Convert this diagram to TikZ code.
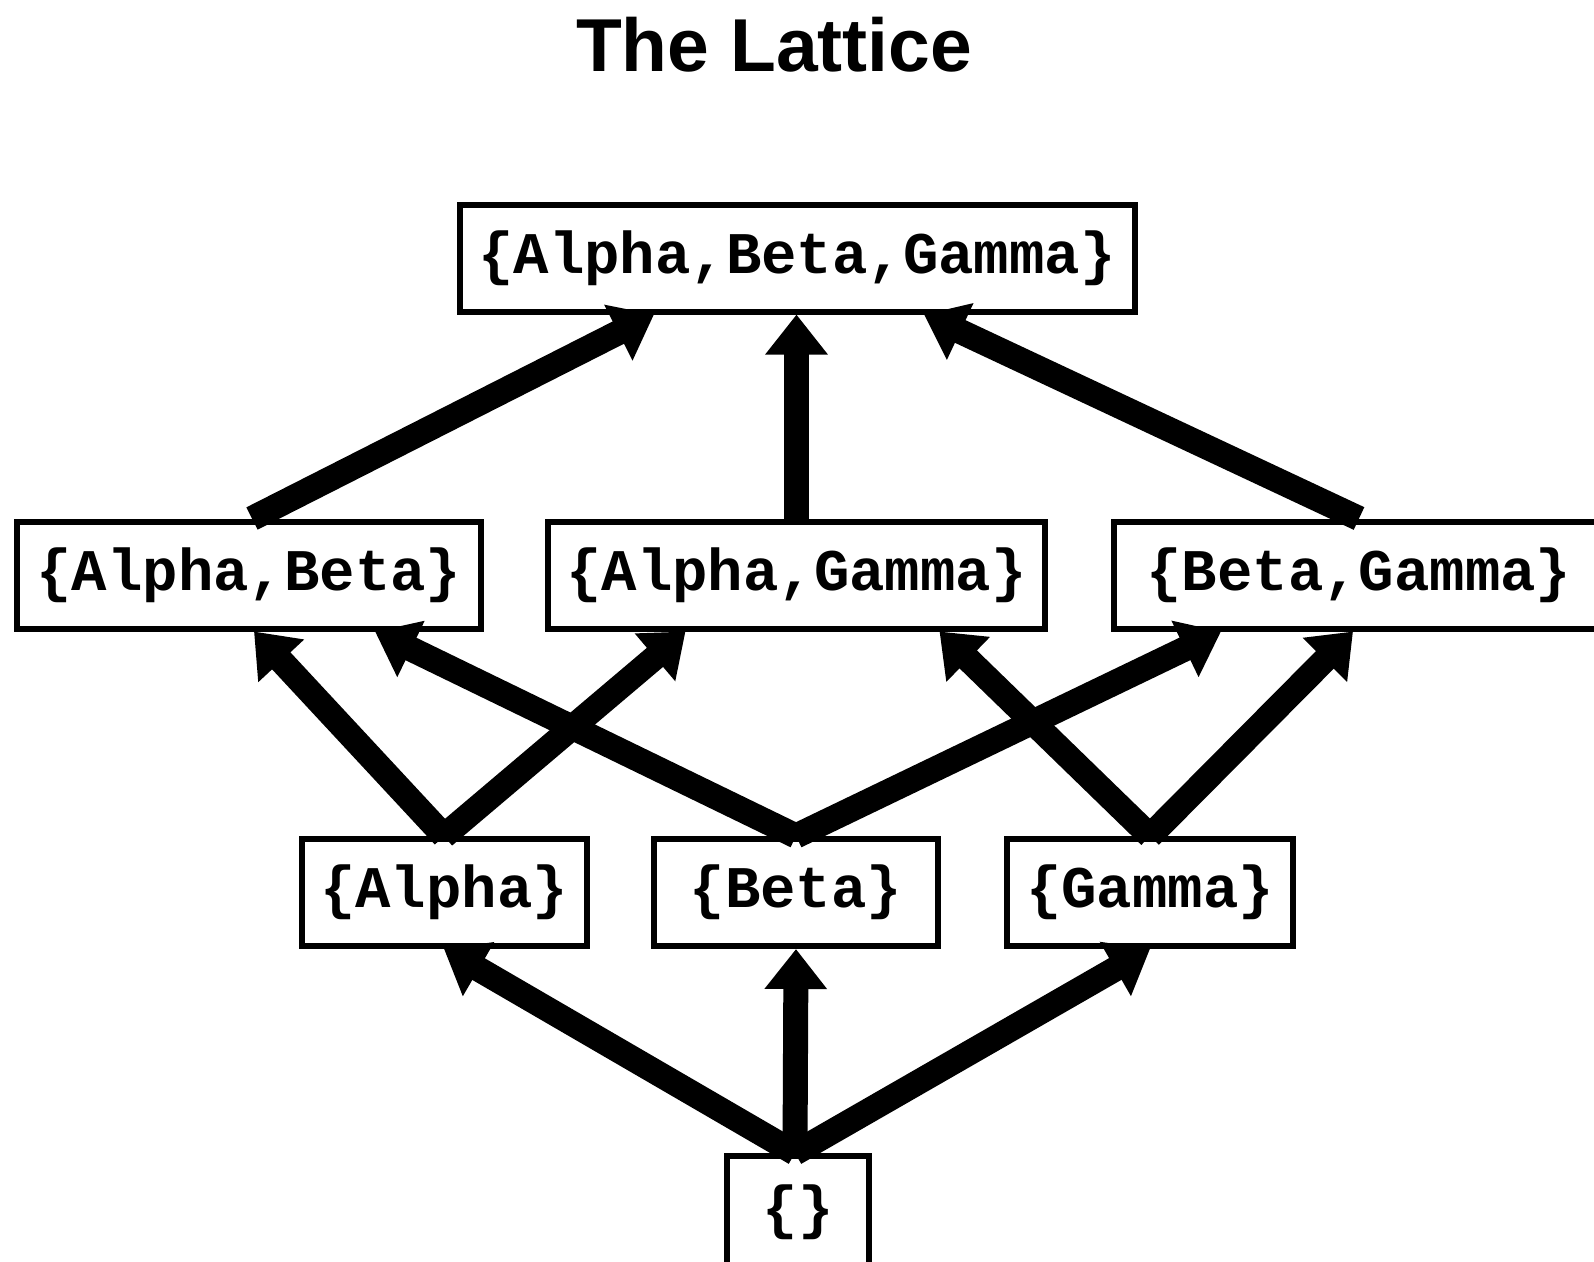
\documentclass[tikz,border=0pt]{standalone}
\usepackage{fontspec}
\setmainfont{Liberation Sans}
\setmonofont{Liberation Mono}
\usetikzlibrary{arrows.meta}
\begin{document}
\begin{tikzpicture}[x=1pt,y=-1pt,
  setbox/.style={draw, line width=6pt, inner sep=0pt,
    font=\ttfamily\bfseries\fontsize{59}{60}\selectfont, minimum height=107pt},
  arr/.style={line width=25pt, -{Triangle[width=60pt,length=40pt]}}]
\useasboundingbox (0,0) rectangle (1594,1261);
\clip (0,0) rectangle (1594,1261);
\node[font=\bfseries\fontsize{75}{80}\selectfont, anchor=base] (title) at (774,71) {The Lattice};
\node[setbox, minimum width=675pt] (abg) at (797,258) {\{Alpha,Beta,Gamma\}};
\node[setbox, minimum width=464pt] (ab) at (249,575) {\{Alpha,Beta\}};
\node[setbox, minimum width=497pt] (ag) at (796.5,575) {\{Alpha,Gamma\}};
\node[setbox, minimum width=490pt] (bg) at (1359,575) {\{Beta,Gamma\}};
\node[setbox, minimum width=285pt] (a) at (444,892.5) {\{Alpha\}};
\node[setbox, minimum width=284pt] (b) at (796,892.5) {\{Beta\}};
\node[setbox, minimum width=286pt] (g) at (1150,892.5) {\{Gamma\}};
\node[setbox, minimum width=142pt, minimum height=113pt] (e) at (798,1212.5) {\{\}};
% top level
\draw[arr] ([xshift=3pt]ab.north) -- ([xshift=-143pt]abg.south);
\draw[arr] (ag.north) -- (ag.north |- abg.south);
\draw[arr] (bg.north) -- ([xshift=127pt]abg.south);
% singletons to pairs
\draw[arr] (a.north) -- ([xshift=5pt]ab.south);
\draw[arr] (a.north) -- ([xshift=-111pt]ag.south);
\draw[arr] (b.north) -- ([xshift=126pt]ab.south);
\draw[arr] (b.north) -- ([xshift=-138pt]bg.south);
\draw[arr] (g.north) -- ([xshift=143pt]ag.south);
\draw[arr] (g.north) -- ([xshift=-6pt]bg.south);
% empty set to singletons
\draw[arr] ([xshift=-3pt]e.north) -- (a.south);
\draw[arr] ([xshift=-3pt]e.north) -- (b.south);
\draw[arr] ([xshift=-3pt]e.north) -- (g.south);
\end{tikzpicture}
\end{document}
